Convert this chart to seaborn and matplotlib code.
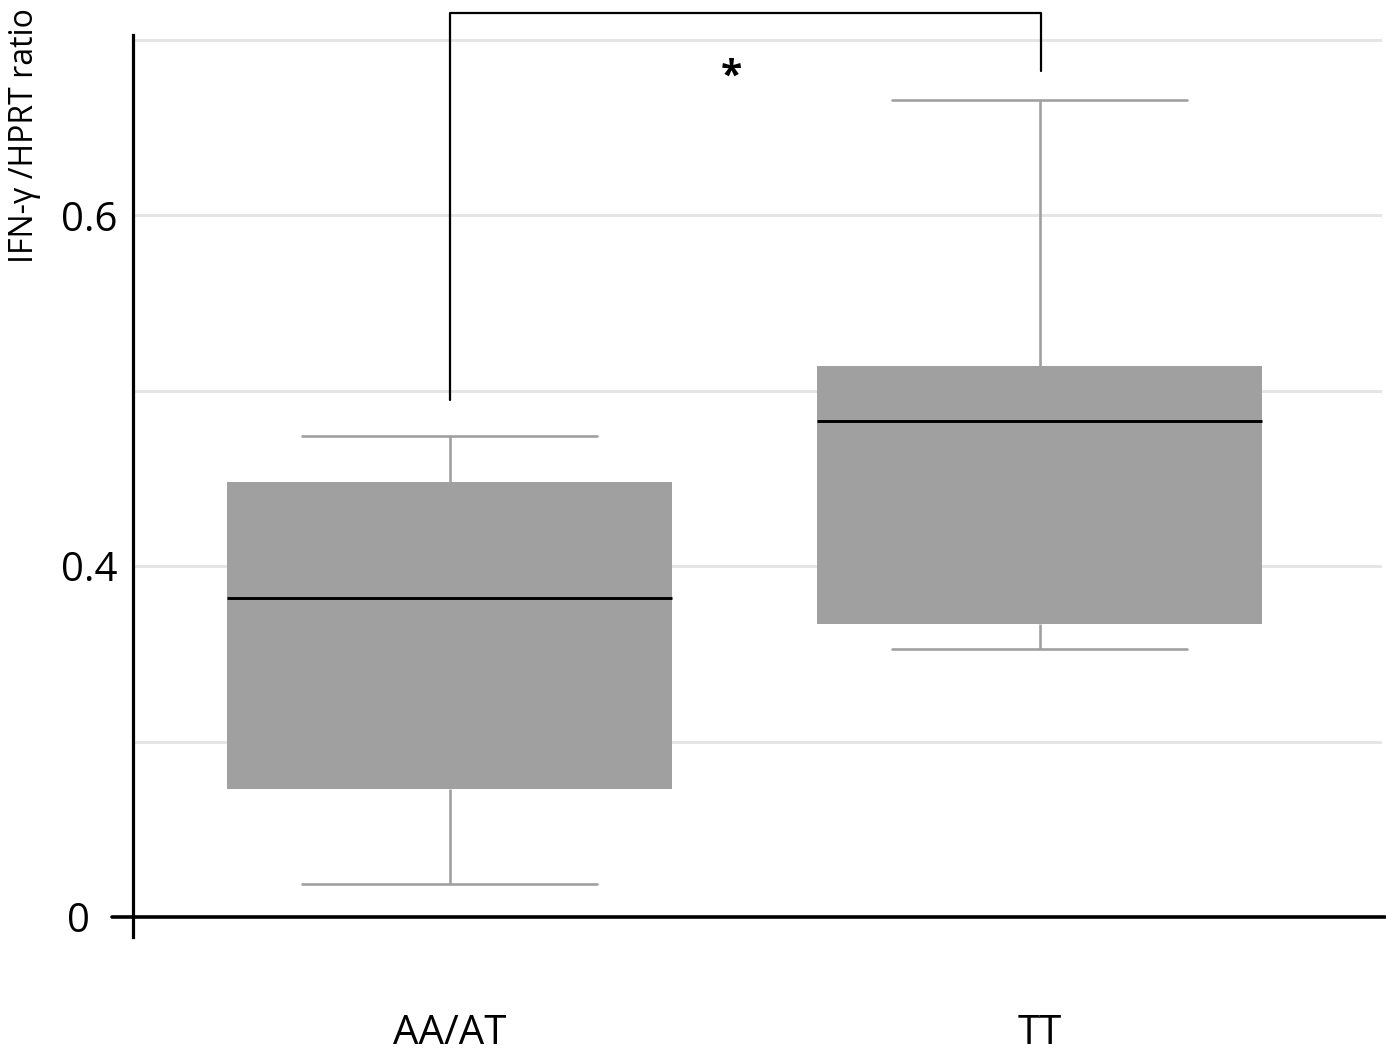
import numpy as np
import pandas as pd
import matplotlib
matplotlib.use("Agg")
import matplotlib.pyplot as plt
import matplotlib.transforms as mtransforms
import seaborn as sns

# five-number summaries (min, q1, median, q3, max)
groups = ["AA/AT", "TT"]
aa_at = [0.219, 0.273, 0.382, 0.448, 0.474]
tt = [0.353, 0.367, 0.483, 0.514, 0.666]

ytick_vals = [0.2, 0.4, 0.6]
ytick_labels = ["0", "0.4", "0.6"]
grid_vals = [0.3, 0.4, 0.5, 0.6, 0.7]

df = pd.DataFrame({
    "genotype": [groups[0]] * len(aa_at) + [groups[1]] * len(tt),
    "ratio": aa_at + tt,
})

sns.set_style("white")
plt.rcParams["font.family"] = ["Open Sans", "DejaVu Sans"]
plt.rcParams["text.color"] = "black"
plt.rcParams["xtick.labelcolor"] = "black"
plt.rcParams["ytick.labelcolor"] = "black"

fig = plt.figure(figsize=(13.86, 10.55), dpi=100)
ax = fig.add_axes([0.096, 0.1118, 0.901, 0.855])

for g in grid_vals:
    ax.axhline(g, color="#e4e4e4", lw=2.0, zorder=0)

sns.boxplot(data=df, x="genotype", y="ratio", order=groups, ax=ax,
            whis=(0, 100), width=0.754, color="#a0a0a0", saturation=1,
            linecolor="#a0a0a0", linewidth=1.9, capwidths=0.5,
            medianprops={"color": "black", "linewidth": 2.1},
            boxprops={"edgecolor": "#a0a0a0", "linewidth": 0})

ax.set_xlim(-0.537, 1.58)
ax.set_ylim(0.1886, 0.7028)

ax.set_yticks(ytick_vals)
ax.set_yticklabels(ytick_labels)
ax.tick_params(axis="y", length=0, pad=11, labelsize=29)
ax.tick_params(axis="x", length=0, pad=55, labelsize=29)
# the "0" label sits further out from the axis
lab0 = ax.get_yticklabels()[0]
lab0.set_transform(lab0.get_transform() +
                   mtransforms.ScaledTranslation(-28 / 100, 0, fig.dpi_scale_trans))

for s in ["top", "right", "bottom"]:
    ax.spines[s].set_visible(False)
ax.spines["left"].set_linewidth(2.3)
ax.spines["left"].set_color("black")

# baseline with the little tick at zero
ax.plot([-0.573, 1.585], [0.2, 0.2], color="black", lw=2.6, clip_on=False, zorder=5)

ax.set_xlabel("")
ax.set_ylabel("")
fig.text(25 / 1386, 1 - 8 / 1055, "IFN-γ /HPRT ratio", rotation=90,
         ha="center", va="top", fontsize=23)

# significance bracket
ax.plot([0, 0, 1.003, 1.003], [0.495, 0.7153, 0.7153, 0.6824],
        color="black", lw=1.6, clip_on=False)
ax.text(0.478, 0.679, "*", ha="center", va="center", fontsize=28,
        fontweight="bold")

fig.savefig("out.png", dpi=100)
